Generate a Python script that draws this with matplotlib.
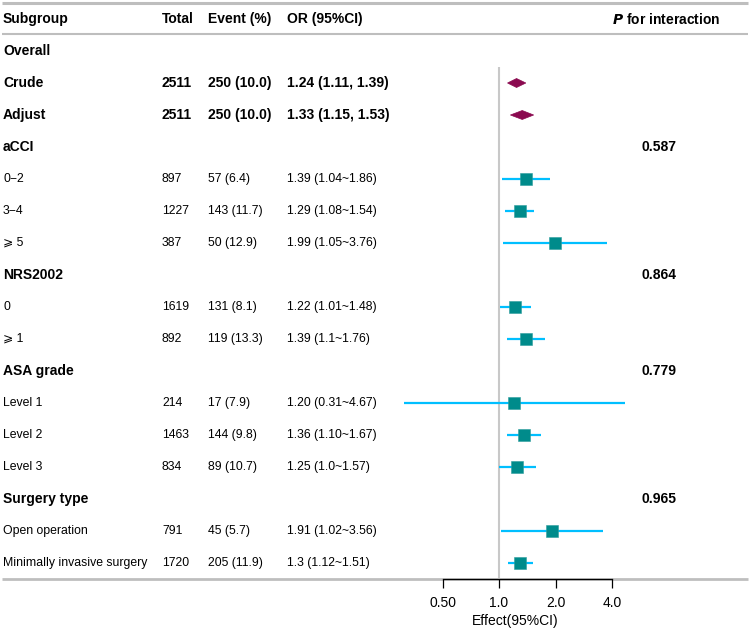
import matplotlib
matplotlib.use("Agg")
import matplotlib.pyplot as plt
import numpy as np
from matplotlib.patches import Polygon

plt.rcParams["font.family"] = ["Liberation Sans", "DejaVu Sans"]

subgroups = [
    "Overall", "Crude", "Adjust", "aCCI", "0\u22122", "3\u22124", "\u2a7e 5",
    "NRS2002", "0", "\u2a7e 1", "ASA grade", "Level 1", "Level 2", "Level 3",
    "Surgery type", "Open operation", "Minimally invasive surgery",
]
bold_rows = {"Overall", "Crude", "Adjust", "aCCI", "NRS2002", "ASA grade", "Surgery type"}
totals = ["", "2511", "2511", "", "897", "1227", "387", "", "1619", "892", "",
          "214", "1463", "834", "", "791", "1720"]
events = ["", "250 (10.0)", "250 (10.0)", "", "57 (6.4)", "143 (11.7)", "50 (12.9)", "",
          "131 (8.1)", "119 (13.3)", "", "17 (7.9)", "144 (9.8)", "89 (10.7)", "",
          "45 (5.7)", "205 (11.9)"]
or_text = ["", "1.24 (1.11, 1.39)", "1.33 (1.15, 1.53)", "", "1.39 (1.04~1.86)",
           "1.29 (1.08~1.54)", "1.99 (1.05~3.76)", "", "1.22 (1.01~1.48)", "1.39 (1.1~1.76)",
           "", "1.20 (0.31~4.67)", "1.36 (1.10~1.67)", "1.25 (1.0~1.57)", "",
           "1.91 (1.02~3.56)", "1.3 (1.12~1.51)"]
est = [np.nan, 1.24, 1.33, np.nan, 1.39, 1.29, 1.99, np.nan, 1.22, 1.39, np.nan,
       1.20, 1.36, 1.25, np.nan, 1.91, 1.30]
lower = [np.nan, 1.11, 1.15, np.nan, 1.04, 1.08, 1.05, np.nan, 1.01, 1.10, np.nan,
         0.31, 1.10, 1.00, np.nan, 1.02, 1.12]
upper = [np.nan, 1.39, 1.53, np.nan, 1.86, 1.54, 3.76, np.nan, 1.48, 1.76, np.nan,
         4.67, 1.67, 1.57, np.nan, 3.56, 1.51]
p_interaction = ["", "", "", "0.587", "", "", "", "0.864", "", "", "0.779", "", "", "",
                 "0.965", "", ""]
diamond_rows = {"Crude", "Adjust"}
ticks = [0.5, 1.0, 2.0, 4.0]
tick_labels = ["0.50", "1.0", "2.0", "4.0"]

W, H = 750, 631
fig = plt.figure(figsize=(W / 100, H / 100), dpi=100)
bg = fig.add_axes([0, 0, 1, 1])
bg.set_xlim(0, W)
bg.set_ylim(H, 0)
bg.axis("off")

grey = "#BEBEBE"
row0, step = 51, 32
header_y = 19


def row_y(i):
    return row0 + step * i


# table lines
bg.plot([2, 748], [3, 3], color=grey, lw=2.2, solid_capstyle="butt")
bg.plot([2, 748], [34, 34], color=grey, lw=1.5, solid_capstyle="butt")
bg.plot([2, 748], [579, 579], color=grey, lw=2.0, solid_capstyle="butt", zorder=1)

# header
hdr = dict(fontsize=10, fontweight="bold", va="center", ha="left")
bg.text(3, header_y, "Subgroup", **hdr)
bg.text(162, header_y, "Total", **hdr)
bg.text(208, header_y, "Event (%)", **hdr)
bg.text(287, header_y, "OR (95%CI)", **hdr)
bg.text(612, header_y, r"$\bfit{P}$" + " for interaction", **hdr)

col_x = [3, 162, 208, 287]
for i, name in enumerate(subgroups):
    y = row_y(i)
    bold = name in bold_rows
    kw = dict(fontsize=10 if bold else 8.8, fontweight="bold" if bold else "normal",
              va="center", ha="left")
    for x, txt in zip(col_x, [name, totals[i], events[i], or_text[i]]):
        if txt:
            bg.text(x, y, txt, **kw)
    if p_interaction[i]:
        bg.text(641, y, p_interaction[i], fontsize=10, fontweight="bold", va="center")

# forest panel
x0_px, x1_px, one_px, oct_px = 380, 750, 499, 56.5
top_px, bot_px = 35, 579
ax = fig.add_axes([x0_px / W, (H - bot_px) / H, (x1_px - x0_px) / W, (bot_px - top_px) / H])
ax.set_xscale("log", base=2)
ax.set_xlim(2 ** ((x0_px - one_px) / oct_px), 2 ** ((x1_px - one_px) / oct_px))
n = len(subgroups)
ax.set_ylim(n - 0.5, -0.5)
ax.patch.set_alpha(0)
for s in ["top", "right", "left"]:
    ax.spines[s].set_visible(False)
ax.spines["bottom"].set_bounds(ticks[0], ticks[-1])
ax.spines["bottom"].set_color("black")
ax.spines["bottom"].set_linewidth(0.9)
ax.spines["bottom"].set_zorder(5)
ax.set_yticks([])
ax.set_xticks(ticks)
ax.set_xticklabels(tick_labels, fontsize=10)
ax.minorticks_off()
ax.tick_params(axis="x", direction="out", length=6.5, width=0.9, pad=5.5)

ax.vlines(1.0, 0.5, n - 0.5, color="#C8C8C8", lw=1.5, zorder=1)

for i, name in enumerate(subgroups):
    if np.isnan(est[i]):
        continue
    if name in diamond_rows:
        h = 0.14
        poly = Polygon([(lower[i], i), (est[i], i - h), (upper[i], i), (est[i], i + h)],
                       closed=True, facecolor="#8B0A50", edgecolor="#8B0A50", lw=0.5, zorder=3)
        ax.add_patch(poly)
    else:
        ax.plot([lower[i], upper[i]], [i, i], color="#00BFFF", lw=1.6, zorder=2,
                solid_capstyle="butt")
        ax.plot(est[i], i, marker="s", markersize=8.5, color="#008B8B",
                markeredgecolor="#2E9E9E", markeredgewidth=0.4, zorder=3)

bg.text(515, 621, "Effect(95%CI)", fontsize=10, ha="center", va="center")

fig.savefig("out.png", dpi=100)
